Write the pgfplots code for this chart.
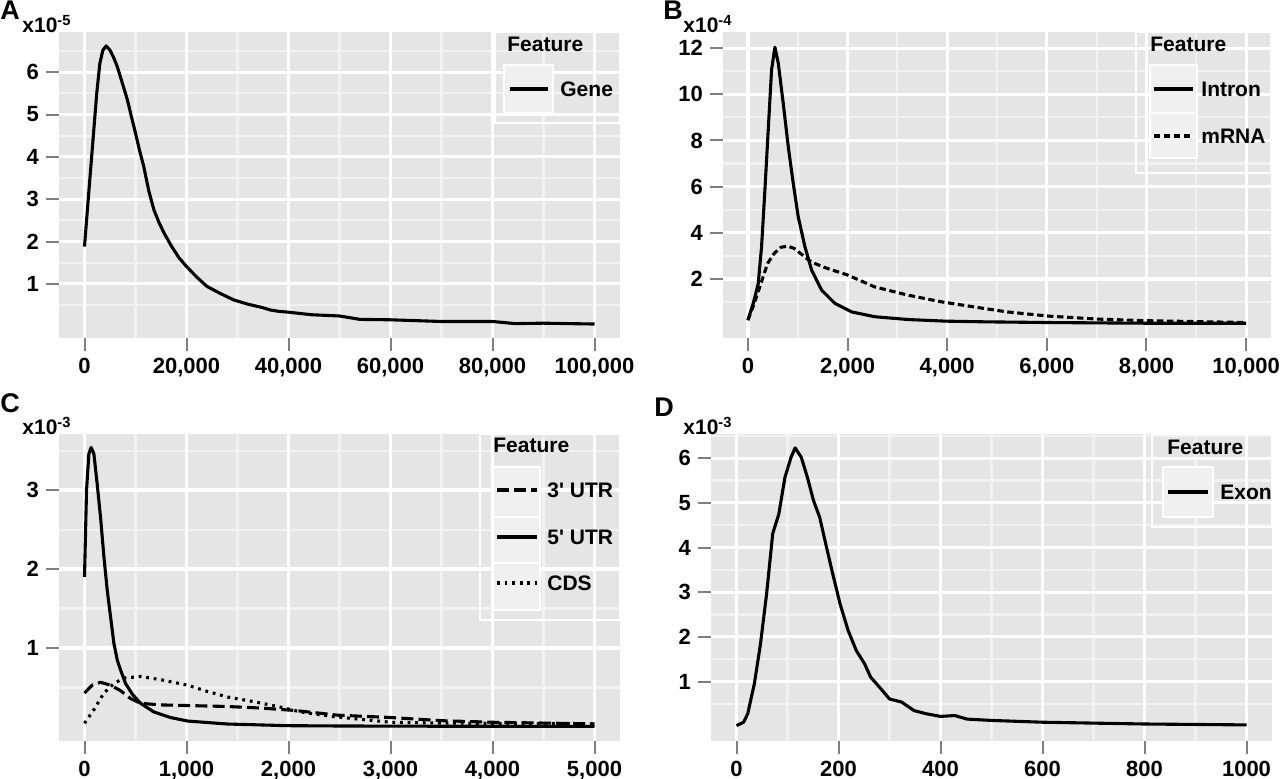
\documentclass[border=0pt]{standalone}
\usepackage{pgfplots}
\pgfplotsset{compat=1.18}
\usepackage{fontspec}
\setmainfont{Liberation Sans}[Ligatures=TeXOff]
\definecolor{panelgrey}{RGB}{229,229,229}
\definecolor{minorgrid}{RGB}{242,242,242}
\definecolor{tickgrey}{RGB}{127,127,127}
\definecolor{keyfill}{RGB}{240,240,240}

\newcommand{\ticksfont}{\bfseries\fontsize{11}{13}\selectfont}
\newcommand{\legfont}{\bfseries\fontsize{10.5}{12}\selectfont}

\pgfplotsset{
  gg/.style={
    scale only axis,
    anchor=north west,
    enlargelimits=false,
    scaled ticks=false,
    axis background/.style={fill=panelgrey},
    axis line style={draw=none},
    tick align=outside,
    tick pos=left,
    major tick length=6.5pt,
    major tick style={tickgrey, line width=1pt, line cap=butt},
    tick label style={font=\ticksfont, text=black},
  },
}
\tikzset{
  curve/.style={black, line width=1.55pt, line join=round},
  mrnadash/.style={dash pattern=on 3.2pt off 1.8pt},
  utrdash/.style={dash pattern=on 6pt off 2.6pt},
  cdsdot/.style={dash pattern=on 1.4pt off 2.4pt},
  gmaj/.style={white, line width=1.6pt},
  gmin/.style={minorgrid, line width=1.05pt},
}
% panel grid lines: style, positions, low end, high end
\newcommand{\vgrid}[4]{\pgfplotsinvokeforeach{#2}{\draw[#1] (axis cs:##1,#3) -- (axis cs:##1,#4);}}
\newcommand{\hgrid}[4]{\pgfplotsinvokeforeach{#2}{\draw[#1] (axis cs:#3,##1) -- (axis cs:#4,##1);}}

% Gene length density (x10^-5)
\pgfplotstableread{
x y
0 1.88
800 3.1
1600 4.3
2400 5.5
3000 6.2
3600 6.52
4250 6.62
5000 6.52
5700 6.35
6400 6.14
7400 5.75
8400 5.35
9200 4.95
10000 4.56
10800 4.15
11600 3.78
12600 3.2
13600 2.75
14600 2.45
15600 2.2
17000 1.9
18500 1.62
20000 1.41
22000 1.16
24000 0.94
26500 0.78
29250 0.62
32000 0.52
34860 0.44
36500 0.38
38060 0.35
40000 0.33
44500 0.27
50000 0.24
54000 0.16
60000 0.15
70000 0.11
80000 0.11
84500 0.06
90000 0.07
100000 0.05
}\genetab

% Intron and mRNA length density (x10^-4)
\pgfplotstableread{
x y
0 0.22
107 0.94
207 1.80
274 3.39
341 5.85
408 8.46
475 11.06
542 12.04
609 11.35
709 9.61
810 7.73
910 6.14
1010 4.69
1145 3.39
1279 2.38
1480 1.51
1747 0.94
2082 0.57
2550 0.36
3219 0.24
3962 0.17
4765 0.14
6025 0.11
8000 0.08
10000 0.08
}\introntab

\pgfplotstableread{
x y
0 0.21
127 0.94
261 1.80
395 2.67
529 3.11
663 3.37
797 3.42
930 3.32
1098 3.03
1265 2.74
1533 2.50
2000 2.17
2536 1.66
3205 1.30
3874 1.01
4678 0.74
5205 0.57
6025 0.39
7008 0.26
7992 0.19
10000 0.11
}\mrnatab

% UTR and CDS length density (x10^-3)
\pgfplotstableread{
x y
0 1.90
20 3.0
43 3.46
65 3.54
92 3.46
124 3.08
157 2.66
190 2.16
223 1.73
255 1.40
288 1.06
321 0.85
354 0.72
403 0.55
472 0.41
550 0.30
681 0.19
845 0.12
1009 0.076
1402 0.038
1991 0.017
2515 0.013
3500 0.01
5000 0.008
}\fiveutrtab

\pgfplotstableread{
x y
0 0.43
75 0.53
157 0.566
255 0.53
354 0.46
452 0.36
550 0.30
746 0.28
1074 0.27
1402 0.26
1730 0.24
2057 0.21
2483 0.15
3005 0.12
3506 0.08
4006 0.06
4507 0.05
5000 0.04
}\threeutrtab

\pgfplotstableread{
x y
0 0.047
92 0.22
190 0.43
288 0.55
387 0.62
550 0.64
746 0.60
1009 0.53
1206 0.45
1402 0.38
1664 0.32
1894 0.26
2123 0.19
2451 0.13
3005 0.06
3506 0.05
5000 0.04
}\cdstab

% Exon length density (x10^-3)
\pgfplotstableread{
x y
0 0.015
14 0.09
22 0.28
35 0.95
47 1.84
59 2.96
71 4.31
83 4.75
95 5.57
107 6.02
115 6.23
127 6.02
139 5.57
151 5.05
163 4.68
175 4.08
187 3.49
203 2.74
219 2.14
235 1.69
251 1.40
263 1.10
283 0.84
300 0.61
324 0.54
348 0.35
372 0.28
400 0.22
428 0.24
452 0.16
500 0.13
601 0.09
701 0.07
802 0.05
1000 0.03
}\exontab

\begin{document}
\begin{tikzpicture}
\path[use as bounding box] (0,0) rectangle (640pt,-389.5pt);

% ---- A: genes
\begin{axis}[gg, at={(29.5pt,-16pt)}, width=280.5pt, height=153pt,
  xmin=-5000, xmax=105000, ymin=-0.28, ymax=6.95,
  xtick={0,20000,40000,60000,80000,100000},
  xticklabels={0,{20,000},{40,000},{60,000},{80,000},{100,000}},
  ytick={1,2,3,4,5,6}, yticklabels={1,2,3,4,5,6}]
\vgrid{gmin}{10000,30000,50000,70000,90000}{-0.28}{6.95}
\hgrid{gmin}{0.5,1.5,2.5,3.5,4.5,5.5,6.5}{-5000}{105000}
\vgrid{gmaj}{0,20000,40000,60000,80000,100000}{-0.28}{6.95}
\hgrid{gmaj}{1,2,3,4,5,6}{-5000}{105000}
\addplot[curve] table {\genetab};
\end{axis}

% ---- B: introns and mRNAs
\begin{axis}[gg, at={(361.5pt,-16pt)}, width=274pt, height=153pt,
  xmin=-500, xmax=10500, ymin=-0.56, ymax=12.7,
  xtick={0,2000,4000,6000,8000,10000},
  xticklabels={0,{2,000},{4,000},{6,000},{8,000},{10,000}},
  ytick={2,4,6,8,10,12}, yticklabels={2,4,6,8,10,12}]
\vgrid{gmin}{1000,3000,5000,7000,9000}{-0.56}{12.7}
\hgrid{gmin}{1,3,5,7,9,11}{-500}{10500}
\vgrid{gmaj}{0,2000,4000,6000,8000,10000}{-0.56}{12.7}
\hgrid{gmaj}{2,4,6,8,10,12}{-500}{10500}
\addplot[curve, mrnadash] table {\mrnatab};
\addplot[curve] table {\introntab};
\end{axis}

% ---- C: UTRs and CDS
\begin{axis}[gg, at={(29.5pt,-217pt)}, width=280.5pt, height=153.5pt,
  xmin=-250, xmax=5250, ymin=-0.177, ymax=3.71,
  xtick={0,1000,2000,3000,4000,5000},
  xticklabels={0,{1,000},{2,000},{3,000},{4,000},{5,000}},
  ytick={1,2,3}, yticklabels={1,2,3}]
\vgrid{gmin}{500,1500,2500,3500,4500}{-0.177}{3.71}
\hgrid{gmin}{0.5,1.5,2.5,3.5}{-250}{5250}
\vgrid{gmaj}{0,1000,2000,3000,4000,5000}{-0.177}{3.71}
\hgrid{gmaj}{1,2,3}{-250}{5250}
\addplot[curve, cdsdot] table {\cdstab};
\addplot[curve, utrdash] table {\threeutrtab};
\addplot[curve] table {\fiveutrtab};
\end{axis}

% ---- D: exons
\begin{axis}[gg, at={(355.5pt,-217pt)}, width=280.5pt, height=153.5pt,
  xmin=-50, xmax=1050, ymin=-0.33, ymax=6.54,
  xtick={0,200,400,600,800,1000},
  xticklabels={0,200,400,600,800,1000},
  ytick={1,2,3,4,5,6}, yticklabels={1,2,3,4,5,6}]
\vgrid{gmin}{100,300,500,700,900}{-0.33}{6.54}
\hgrid{gmin}{0.5,1.5,2.5,3.5,4.5,5.5,6.5}{-50}{1050}
\vgrid{gmaj}{0,200,400,600,800,1000}{-0.33}{6.54}
\hgrid{gmaj}{1,2,3,4,5,6}{-50}{1050}
\addplot[curve] table {\exontab};
\end{axis}

% ---- panel letters, scale notes and legends (units: 0.5pt)
\begin{scope}[x=0.5pt, y=-0.5pt]
  \tikzset{panel/.style={anchor=base west, inner sep=0pt, font=\bfseries\fontsize{13.5}{14}\selectfont},
           scal/.style={anchor=base west, inner sep=0pt, font=\bfseries\fontsize{10.5}{12}\selectfont},
           legtitle/.style={anchor=base west, inner sep=0pt, font=\legfont},
           leglab/.style={anchor=west, inner sep=0pt, font=\legfont},
           legbox/.style={draw=white, line width=1.4pt},
           keybox/.style={draw=white, line width=1.4pt, fill=keyfill}}

  \node[panel] at (0,20) {A};
  \node[scal] at (22,33) {x10\textsuperscript{-5}};
  \node[panel] at (663,20) {B};
  \node[scal] at (683,33) {x10\textsuperscript{-4}};
  \node[panel] at (0,413) {C};
  \node[scal] at (22,435) {x10\textsuperscript{-3}};
  \node[panel] at (654,417) {D};
  \node[scal] at (683,435) {x10\textsuperscript{-3}};

  % legend A
  \draw[legbox] (495,32) rectangle (620,123);
  \node[legtitle] at (507,52) {Feature};
  \draw[keybox] (504,65) rectangle (553,113);
  \draw[curve] (510,89) -- (548,89);
  \node[leglab] at (560,89) {Gene};

  % legend B
  \draw[legbox] (1136,32) rectangle (1271,173);
  \node[legtitle] at (1150,52) {Feature};
  \draw[keybox] (1150,65) rectangle (1197,113);
  \draw[keybox] (1150,113) rectangle (1197,158);
  \draw[curve] (1154,89) -- (1193,89);
  \draw[curve, mrnadash] (1154,136) -- (1193,136);
  \node[leglab] at (1201,89) {Intron};
  \node[leglab] at (1201,136) {mRNA};

  % legend C
  \draw[legbox] (480,434) rectangle (620,620);
  \node[legtitle] at (493,453) {Feature};
  \draw[keybox] (493,467) rectangle (540,517);
  \draw[keybox] (493,517) rectangle (540,563);
  \draw[keybox] (493,563) rectangle (540,610);
  \draw[curve, utrdash] (497,490) -- (537,490);
  \draw[curve] (497,537) -- (537,537);
  \draw[curve, cdsdot] (497,583) -- (537,583);
  \node[leglab] at (547,490) {3' UTR};
  \node[leglab] at (547,537) {5' UTR};
  \node[leglab] at (547,583) {CDS};

  % legend D
  \draw[legbox] (1152,434) rectangle (1272,527);
  \node[legtitle] at (1167,455) {Feature};
  \draw[keybox] (1163,467) rectangle (1213,517);
  \draw[curve] (1168,492) -- (1208,492);
  \node[leglab] at (1220,492) {Exon};
\end{scope}
\end{tikzpicture}
\end{document}
